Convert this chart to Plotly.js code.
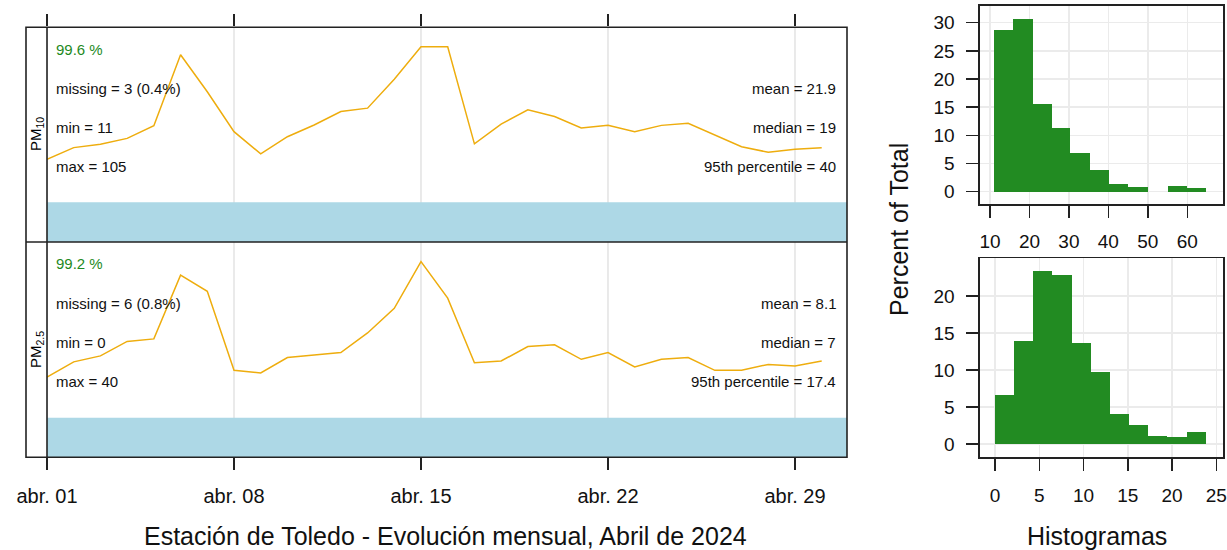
<!DOCTYPE html>
<html>
<head>
<meta charset="utf-8">
<script src="https://cdn.plot.ly/plotly-3.0.1.min.js"></script>
<style>
  html, body { margin: 0; padding: 0; background: #fff; }
  #chart { width: 1227px; height: 550px; }
</style>
</head>
<body>
<div id="chart"></div>
<script>
// ---- data ----
const days = ['2024-04-01','2024-04-02','2024-04-03','2024-04-04','2024-04-05','2024-04-06','2024-04-07','2024-04-08','2024-04-09','2024-04-10',
              '2024-04-11','2024-04-12','2024-04-13','2024-04-14','2024-04-15','2024-04-16','2024-04-17','2024-04-18','2024-04-19','2024-04-20',
              '2024-04-21','2024-04-22','2024-04-23','2024-04-24','2024-04-25','2024-04-26','2024-04-27','2024-04-28','2024-04-29','2024-04-30'];
const pm10Daily = [13.0,15.8,16.6,18.0,21.0,37.9,29.1,19.6,14.3,18.4,21.2,24.4,25.2,32.1,39.8,39.8,16.7,21.4,24.8,23.2,20.5,21.1,19.6,21.1,21.6,18.8,16.0,14.7,15.4,15.8];
const pm25Daily = [4.5,6.3,7.0,8.7,9.0,16.5,14.6,5.3,5.0,6.8,7.1,7.4,9.7,12.6,18.1,13.8,6.2,6.4,8.1,8.3,6.6,7.4,5.7,6.6,6.8,5.3,5.3,6.0,5.8,6.4];

const tickDates = ['2024-04-01','2024-04-08','2024-04-15','2024-04-22','2024-04-29'];
const tickLabels = ['abr. 01','abr. 08','abr. 15','abr. 22','abr. 29'];

const pm10StatsLeft  = ['missing = 3 (0.4%)','min = 11','max = 105'];
const pm10StatsRight = ['mean = 21.9','median = 19','95th percentile = 40'];
const pm10Capture = '99.6 %';
const pm25StatsLeft  = ['missing = 6 (0.8%)','min = 0','max = 40'];
const pm25StatsRight = ['mean = 8.1','median = 7','95th percentile = 17.4'];
const pm25Capture = '99.2 %';

const pm10Edges = [11.1,15.9,20.8,25.6,30.4,35.3,40.2,45.0,50.0,55.2,60.0,64.7];
const pm10Pct   = [28.7,30.7,15.6,11.4,6.8,3.9,1.3,0.9,0,1.0,0.6];
const pm25Edges = [0,2.16,4.33,6.49,8.65,10.82,12.98,15.15,17.31,19.47,21.64,23.8];
const pm25Pct   = [6.6,13.9,23.4,22.9,13.7,9.7,4.0,2.5,1.1,0.9,1.6];

// ---- helpers ----
const W = 1227, H = 550;
const px = v => v / W;
const py = v => 1 - v / H;
const FONT = '"Liberation Sans", Arial, sans-serif';

function binCenters(e){ const c=[]; for(let i=0;i<e.length-1;i++) c.push((e[i]+e[i+1])/2); return c; }
function binWidths(e){ const w=[]; for(let i=0;i<e.length-1;i++) w.push(e[i+1]-e[i]); return w; }

const lineColor = '#EEAD0E';
const histColor = '#228B22';
const frameColor = '#222';

const traces = [
  { x: days, y: pm10Daily, type: 'scatter', mode: 'lines', xaxis: 'x2', yaxis: 'y2',
    line: { color: lineColor, width: 1.5 }, hoverinfo: 'skip' },
  { x: days, y: pm25Daily, type: 'scatter', mode: 'lines', xaxis: 'x', yaxis: 'y',
    line: { color: lineColor, width: 1.5 }, hoverinfo: 'skip' },
  { x: binCenters(pm10Edges), y: pm10Pct, width: binWidths(pm10Edges), type: 'bar', xaxis: 'x3', yaxis: 'y3',
    marker: { color: histColor, line: { width: 0 } }, hoverinfo: 'skip' },
  { x: binCenters(pm25Edges), y: pm25Pct, width: binWidths(pm25Edges), type: 'bar', xaxis: 'x4', yaxis: 'y4',
    marker: { color: histColor, line: { width: 0 } }, hoverinfo: 'skip' }
];

const xRange = ['2024-04-01 00:00', '2024-04-30 22:44'];
const leftDom = [px(47), px(847)];
const gridCol = '#e3e3e3';

const dateAxisCommon = {
  type: 'date', range: xRange, domain: leftDom,
  tickmode: 'array', tickvals: tickDates, ticktext: tickLabels,
  ticks: 'outside', ticklen: 12, tickwidth: 1.5, tickcolor: '#222',
  showgrid: false,
  zeroline: false, showline: false, fixedrange: true
};

const histAxisCommon = {
  ticks: 'outside', ticklen: 12, tickwidth: 1.5, tickcolor: '#222',
  showgrid: true, gridcolor: '#ebebeb', gridwidth: 1.5,
  zeroline: false, showline: true, linecolor: frameColor, linewidth: 1.6, mirror: true,
  tickfont: { family: FONT, size: 19, color: '#111' }, ticklabelstandoff: 8, fixedrange: true
};

const annotations = [];
const fr = [0.714, 0.534, 0.353];
function addStats(xa, ya, cap, left, right){
  annotations.push({ xref: xa + ' domain', yref: ya + ' domain', x: 0.00875, y: 0.898, xanchor: 'left', yanchor: 'middle',
    text: cap, showarrow: false, font: { family: FONT, size: 15, color: '#1e8a1e' } });
  left.forEach((t,i) => annotations.push({ xref: xa + ' domain', yref: ya + ' domain', x: 0.00875, y: fr[i], xanchor: 'left', yanchor: 'middle',
    text: t, showarrow: false, font: { family: FONT, size: 15, color: '#111' } }));
  right.forEach((t,i) => annotations.push({ xref: xa + ' domain', yref: ya + ' domain', x: 0.9884, y: fr[i], xanchor: 'right', yanchor: 'middle',
    text: t, showarrow: false, font: { family: FONT, size: 15, color: '#111' } }));
}
addStats('x2', 'y2', pm10Capture, pm10StatsLeft, pm10StatsRight);
addStats('x', 'y', pm25Capture, pm25StatsLeft, pm25StatsRight);

annotations.push(
  { xref: 'paper', yref: 'paper', x: px(36.5), y: py(134.6), textangle: -90, xanchor: 'center', yanchor: 'middle',
    text: 'PM<sub>10</sub>', showarrow: false, font: { family: FONT, size: 15, color: '#000' } },
  { xref: 'paper', yref: 'paper', x: px(36.5), y: py(349.6), textangle: -90, xanchor: 'center', yanchor: 'middle',
    text: 'PM<sub>2.5</sub>', showarrow: false, font: { family: FONT, size: 15, color: '#000' } },
  { xref: 'paper', yref: 'paper', x: px(445), y: py(536), xanchor: 'center', yanchor: 'middle',
    text: 'Estación de Toledo - Evolución mensual, Abril de 2024', showarrow: false, font: { family: FONT, size: 25, color: '#111' } },
  { xref: 'paper', yref: 'paper', x: px(1097), y: py(536), xanchor: 'center', yanchor: 'middle',
    text: 'Histogramas', showarrow: false, font: { family: FONT, size: 25, color: '#111' } },
  { xref: 'paper', yref: 'paper', x: px(899), y: py(230), textangle: -90, xanchor: 'center', yanchor: 'middle',
    text: 'Percent of Total', showarrow: false, font: { family: FONT, size: 25, color: '#111' } }
);

const shapes = [];
// vertical grid lines at tick dates (drawn first, under the capture band)
[['x2','y2'],['x','y']].forEach(([xa, ya]) => {
  tickDates.forEach(d => shapes.push({ type: 'line', xref: xa, yref: ya + ' domain', x0: d, x1: d, y0: 0, y1: 1,
    line: { color: gridCol, width: 1.5 }, layer: 'below' }));
});
// data capture bands
shapes.push(
  { type: 'rect', xref: 'x2 domain', yref: 'y2 domain', x0: 0, x1: 1, y0: 0, y1: 0.185, fillcolor: '#ADD8E6', line: { width: 0 }, layer: 'below' },
  { type: 'rect', xref: 'x domain', yref: 'y domain', x0: 0, x1: 1, y0: 0, y1: 0.184, fillcolor: '#ADD8E6', line: { width: 0 }, layer: 'below' }
);
// frame of the time-series panels
shapes.push(
  { type: 'rect', xref: 'paper', yref: 'paper', x0: px(26), x1: px(847), y0: py(457.3), y1: py(27.3), line: { color: frameColor, width: 1.6 }, layer: 'above' },
  { type: 'line', xref: 'paper', yref: 'paper', x0: px(47), x1: px(47), y0: py(457.3), y1: py(27.3), line: { color: frameColor, width: 1.6 }, layer: 'above' },
  { type: 'line', xref: 'paper', yref: 'paper', x0: px(26), x1: px(847), y0: py(242), y1: py(242), line: { color: frameColor, width: 1.6 }, layer: 'above' }
);

const layout = {
  width: W, height: H,
  margin: { l: 0, r: 0, t: 0, b: 0, pad: 0 },
  paper_bgcolor: '#fff', plot_bgcolor: 'rgba(0,0,0,0)',
  showlegend: false, bargap: 0,
  font: { family: FONT, color: '#111' },
  xaxis: Object.assign({}, dateAxisCommon, { anchor: 'y', side: 'bottom', showticklabels: true,
    tickfont: { family: FONT, size: 20, color: '#111' }, ticklabelstandoff: 9 }),
  xaxis2: Object.assign({}, dateAxisCommon, { anchor: 'y2', side: 'top', showticklabels: false }),
  yaxis: { domain: [py(457.3), py(242)], range: [-4.93, 20.4], visible: false, fixedrange: true },
  yaxis2: { domain: [py(242), py(27.3)], range: [-6.67, 44.45], visible: false, fixedrange: true },
  xaxis3: Object.assign({}, histAxisCommon, { anchor: 'y3', domain: [px(980), px(1223)], range: [7.47, 69.05], tickmode: 'array', tickvals: [10,20,30,40,50,60] }),
  yaxis3: Object.assign({}, histAxisCommon, { anchor: 'x3', domain: [py(204), py(6)], range: [-2.18, 32.97], tickmode: 'array', tickvals: [0,5,10,15,20,25,30] }),
  xaxis4: Object.assign({}, histAxisCommon, { anchor: 'y4', domain: [px(980), px(1223)], range: [-1.7, 25.76], tickmode: 'array', tickvals: [0,5,10,15,20,25] }),
  yaxis4: Object.assign({}, histAxisCommon, { anchor: 'x4', domain: [py(457.3), py(258.3)], range: [-1.8, 25.1], tickmode: 'array', tickvals: [0,5,10,15,20] }),
  annotations: annotations,
  shapes: shapes
};

Plotly.newPlot('chart', traces, layout, { staticPlot: true, displayModeBar: false });
</script>
</body>
</html>
